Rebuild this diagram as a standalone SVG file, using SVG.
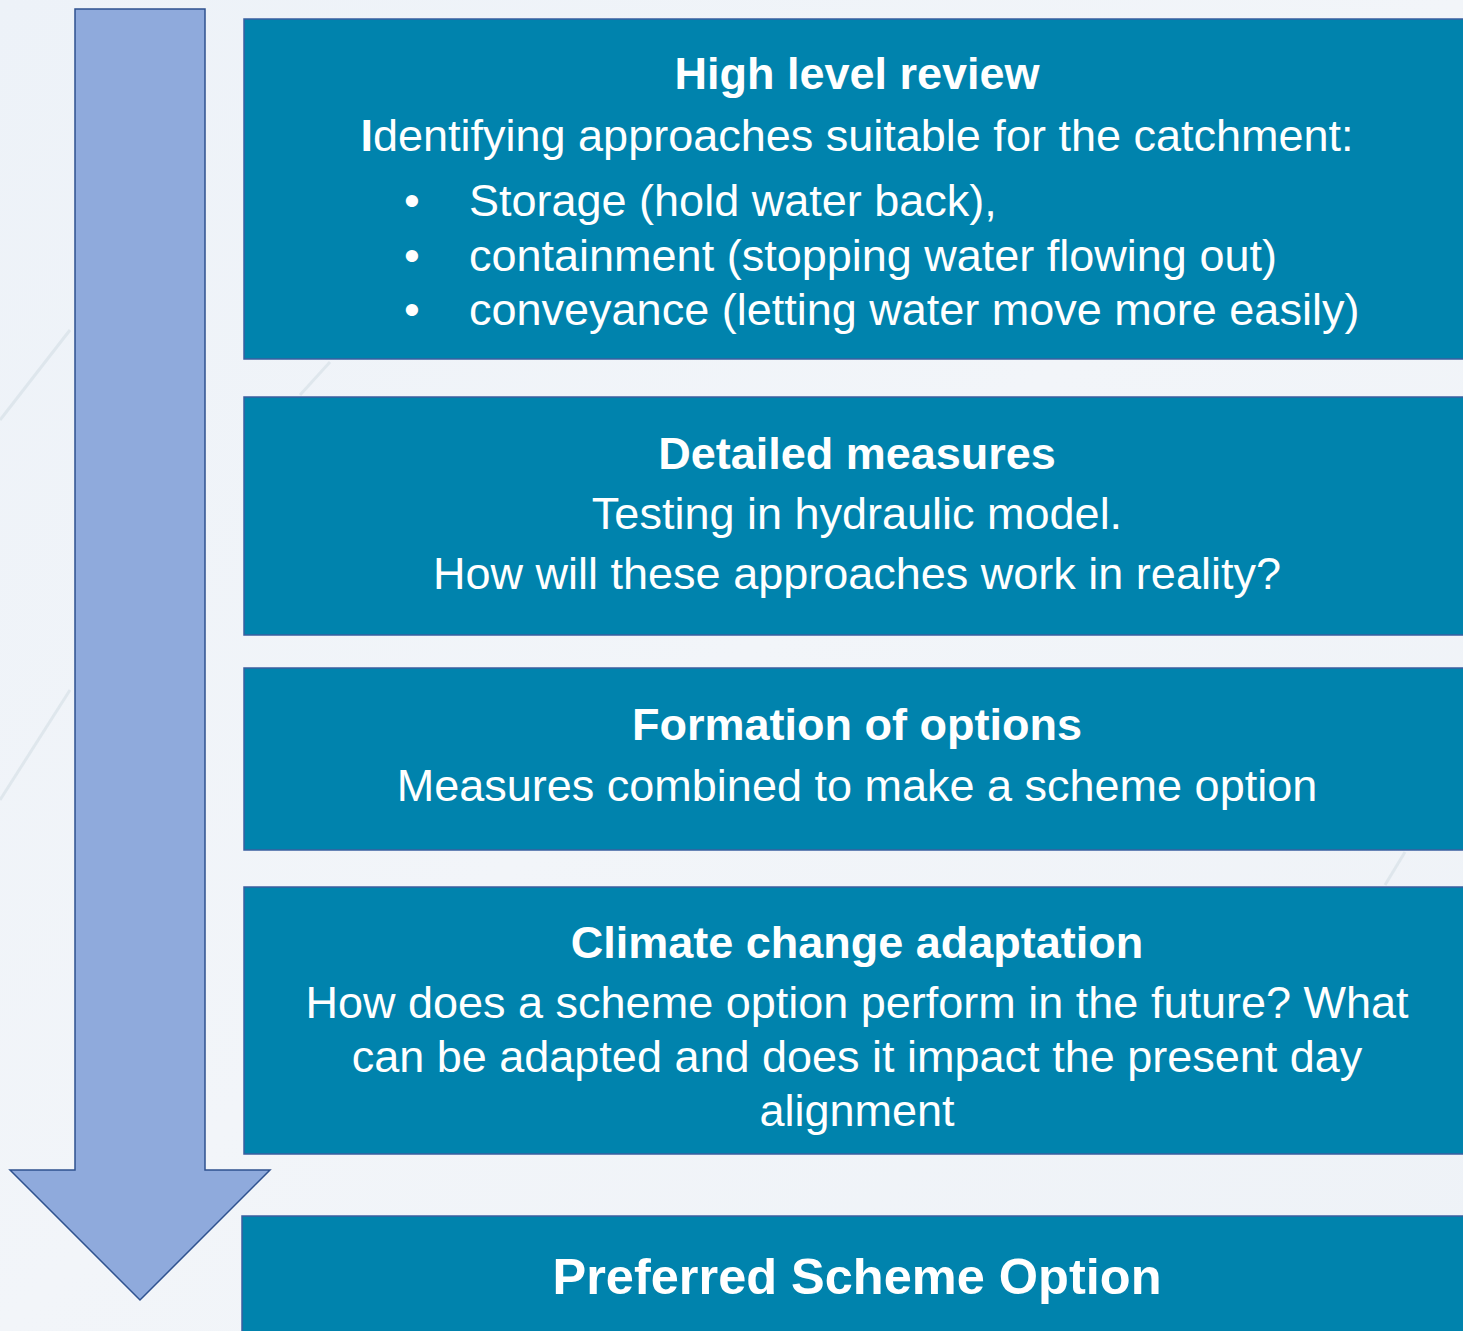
<svg xmlns="http://www.w3.org/2000/svg" width="1463" height="1331" viewBox="0 0 1463 1331">
  <defs>
    <linearGradient id="bg" x1="0" y1="0" x2="1" y2="1">
      <stop offset="0" stop-color="#EDF2F8"/>
      <stop offset="0.5" stop-color="#F2F5F9"/>
      <stop offset="1" stop-color="#EEF2F7"/>
    </linearGradient>
  </defs>
  <style>
    .box { fill: #0083AD; stroke: #3A5FA0; stroke-width: 1.5; }
    .arrow { fill: #8FAADC; stroke: #2F528F; stroke-width: 1.5; stroke-linejoin: miter; }
    .t { font-family: "Liberation Sans", Arial, sans-serif; fill: #FFFFFF; font-size: 45px; }
    .c { text-anchor: middle; }
    .b { font-weight: bold; }
    .big { font-size: 50.5px; }
    .streak { stroke: #C9D6DE; stroke-width: 3; fill: none; opacity: 0.45; }
  </style>
  <rect x="0" y="0" width="1463" height="1331" fill="url(#bg)"/>
  <g id="background-streaks">
    <path class="streak" d="M330 362 L300 395"/>
    <path class="streak" d="M0 420 L70 330"/>
    <path class="streak" d="M0 800 L70 690"/>
    <path class="streak" d="M1405 852 L1385 885"/>
  </g>
  <g id="connectors">
    <polygon id="flow-arrow" class="arrow" points="75,9 205,9 205,1170 270,1170 140,1300 10,1170 75,1170"/>
  </g>
  <g id="high-level-review">
    <rect class="box" x="244" y="19" width="1225" height="340"/>
    <text class="t c b" x="857" y="89">High level review</text>
    <text class="t c" x="857" y="151"><tspan font-weight="bold">I</tspan>dentifying approaches suitable for the catchment:</text>
    <text class="t" x="404" y="216">•</text>
    <text class="t" x="469" y="216">Storage (hold water back),</text>
    <text class="t" x="404" y="271">•</text>
    <text class="t" x="469" y="271">containment (stopping water flowing out)</text>
    <text class="t" x="404" y="325">•</text>
    <text class="t" x="469" y="325">conveyance (letting water move more easily)</text>
  </g>
  <g id="detailed-measures">
    <rect class="box" x="244" y="397" width="1225" height="238"/>
    <text class="t c b" x="857" y="469">Detailed measures</text>
    <text class="t c" x="857" y="529">Testing in hydraulic model.</text>
    <text class="t c" x="857" y="589">How will these approaches work in reality?</text>
  </g>
  <g id="formation-of-options">
    <rect class="box" x="244" y="668" width="1225" height="182"/>
    <text class="t c b" x="857" y="740">Formation of options</text>
    <text class="t c" x="857" y="801">Measures combined to make a scheme option</text>
  </g>
  <g id="climate-change-adaptation">
    <rect class="box" x="244" y="887" width="1225" height="267"/>
    <text class="t c b" x="857" y="958">Climate change adaptation</text>
    <text class="t c" x="857" y="1018">How does a scheme option perform in the future? What</text>
    <text class="t c" x="857" y="1072">can be adapted and does it impact the present day</text>
    <text class="t c" x="857" y="1126">alignment</text>
  </g>
  <g id="preferred-scheme-option">
    <rect class="box" x="242" y="1216" width="1227" height="125"/>
    <text class="t c b big" x="857" y="1294">Preferred Scheme Option</text>
  </g>
</svg>
